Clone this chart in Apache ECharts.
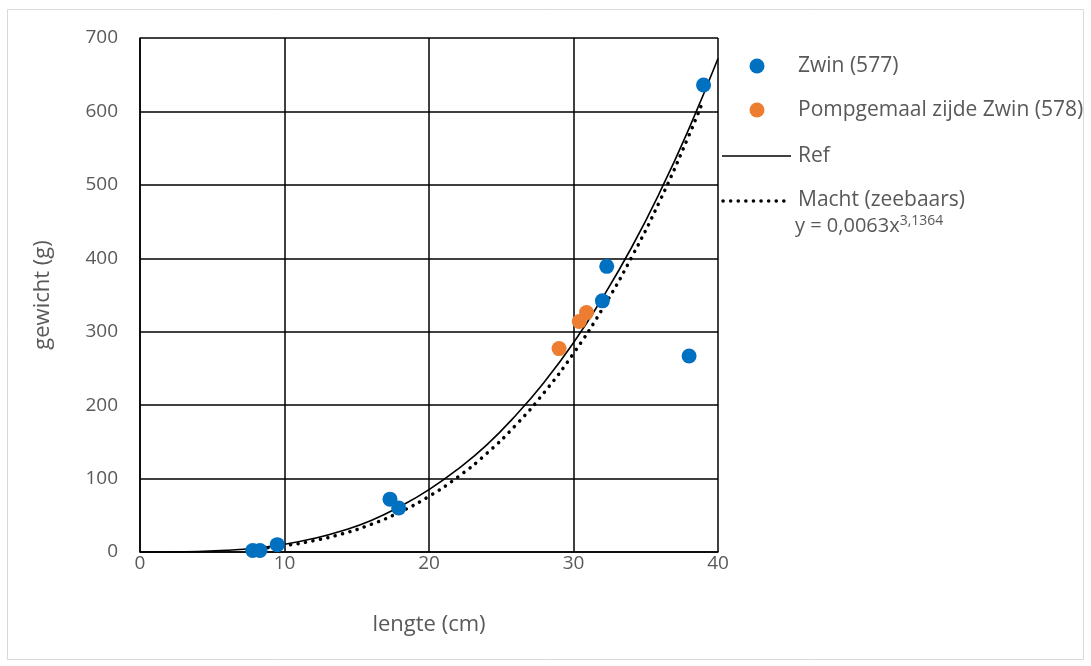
<!DOCTYPE html>
<html>
<head>
<meta charset="utf-8">
<script src="https://cdn.jsdelivr.net/npm/echarts@6/dist/echarts.min.js"></script>
<style>
html,body{margin:0;padding:0;background:#fff;}
#chart{width:1091px;height:666px;}
</style>
</head>
<body>
<div id="chart"></div>
<script>
// Zwin (577): length (cm), weight (g)
const zwinX = [7.8, 8.3, 9.5, 17.3, 17.9, 32.0, 32.3, 38.0, 39.0];
const zwinY = [2, 2, 10, 72, 60, 342, 389, 267, 636];
// Pompgemaal zijde Zwin (578)
const pompX = [29.0, 30.4, 30.9];
const pompY = [277, 314, 326];
// Ref curve
const refX = [0, 2, 4, 6, 8, 10, 12, 14, 16, 18, 20, 22, 24, 26, 28, 30, 32, 34, 36, 38, 40];
const refY = [0, 0.1, 0.7, 2.3, 5.4, 10.6, 18.3, 29, 43, 62, 85, 113, 146, 186, 232, 285, 346, 414, 491, 577, 672];
// Power trendline "Macht (zeebaars)"
const trendX = [7.8, 8, 10, 12, 14, 16, 18, 20, 22, 24, 26, 28, 30, 32, 34, 36, 38, 39];
const trendY = [4.0, 4.3, 8.6, 15.3, 24.8, 37.7, 54.5, 75.8, 102.2, 134.3, 172.7, 217.9, 270.5, 331.1, 400.6, 479.2, 567.8, 616];
const xTicks = [0, 10, 20, 30, 40];
const yTicks = [0, 100, 200, 300, 400, 500, 600, 700];
const legendNames = ['Zwin (577)', 'Pompgemaal zijde Zwin (578)', 'Ref', 'Macht (zeebaars)'];

const pair = (xs, ys) => xs.map((x, i) => [x, ys[i]]);
const FONT = '"Open Sans", sans-serif';
const TXT = '#595959';
const LEG = 21;

const chart = echarts.init(document.getElementById('chart'));
const dotStyle = { color: '#000', width: 3.5, type: [0.1, 7.5], cap: 'round' };

chart.setOption({
  animation: false,
  backgroundColor: '#fff',
  grid: { left: 140, top: 38, right: 373, bottom: 114, containLabel: false },
  xAxis: {
    type: 'value', min: xTicks[0], max: xTicks[xTicks.length - 1], interval: 10,
    name: 'lengte (cm)', nameLocation: 'middle', nameGap: 62,
    nameTextStyle: { color: TXT, fontSize: 22, fontFamily: FONT },
    axisLine: { show: true, lineStyle: { color: '#000', width: 1.5 } },
    axisTick: { show: false },
    axisLabel: { color: TXT, fontSize: 19, fontFamily: FONT, margin: 2 },
    splitLine: { show: true, lineStyle: { color: '#000', width: 1.5 } }
  },
  yAxis: {
    type: 'value', min: yTicks[0], max: yTicks[yTicks.length - 1], interval: 100,
    name: 'gewicht (g)', nameLocation: 'middle', nameGap: 86, nameRotate: 90,
    nameTextStyle: { color: TXT, fontSize: 22, fontFamily: FONT },
    axisLine: { show: true, lineStyle: { color: '#000', width: 1.5 } },
    axisTick: { show: false },
    axisLabel: { color: TXT, fontSize: 19, fontFamily: FONT, margin: 22 },
    splitLine: { show: true, lineStyle: { color: '#000', width: 1.5 } }
  },
  series: [
    {
      name: legendNames[3], type: 'line', data: pair(trendX, trendY), smooth: true,
      showSymbol: false, lineStyle: dotStyle, z: 3
    },
    {
      name: legendNames[2], type: 'line', data: pair(refX, refY), smooth: true,
      showSymbol: false, lineStyle: { color: '#000', width: 1.6 }, z: 3,
      clip: false
    },
    {
      name: legendNames[0], type: 'scatter', data: pair(zwinX, zwinY),
      symbolSize: 15, itemStyle: { color: '#0070C0', opacity: 1 }, z: 4
    },
    {
      name: legendNames[1], type: 'scatter', data: pair(pompX, pompY),
      symbolSize: 15, itemStyle: { color: '#ED7D31', opacity: 1 }, z: 4
    }
  ],
  graphic: [
    { type: 'rect', shape: { x: 7.5, y: 9.5, width: 1076, height: 650 }, style: { fill: 'none', stroke: '#d9d9d9', lineWidth: 1 }, silent: true, z: -10 },
    { type: 'circle', shape: { cx: 757, cy: 66, r: 7.5 }, style: { fill: '#0070C0' } },
    { type: 'text', x: 798, y: 66, style: { text: legendNames[0], fill: TXT, fontSize: LEG, fontFamily: FONT, verticalAlign: 'middle' } },
    { type: 'circle', shape: { cx: 757, cy: 110, r: 7.5 }, style: { fill: '#ED7D31' } },
    { type: 'text', x: 798, y: 110, style: { text: legendNames[1], fill: TXT, fontSize: LEG, fontFamily: FONT, verticalAlign: 'middle' } },
    { type: 'line', shape: { x1: 722, y1: 156, x2: 791, y2: 156 }, style: { stroke: '#000', lineWidth: 1.6 } },
    { type: 'text', x: 798, y: 156, style: { text: legendNames[2], fill: TXT, fontSize: LEG, fontFamily: FONT, verticalAlign: 'middle' } },
    { type: 'line', shape: { x1: 723, y1: 201, x2: 791, y2: 201 }, style: { stroke: '#000', lineWidth: 3.5, lineDash: [0.1, 7.5], lineCap: 'round' } },
    { type: 'text', x: 798, y: 200, style: { text: legendNames[3], fill: TXT, fontSize: LEG, fontFamily: FONT, verticalAlign: 'middle' } },
    { type: 'text', x: 795, y: 226, style: {
        text: '{b|y = 0,0063x}{s|3,1364}', verticalAlign: 'middle',
        rich: {
          b: { fill: TXT, fontSize: 20, fontFamily: FONT },
          s: { fill: TXT, fontSize: 14, fontFamily: FONT, verticalAlign: 'top', padding: [0, 0, 10, 0] }
        }
      } }
  ]
});
</script>
</body>
</html>
